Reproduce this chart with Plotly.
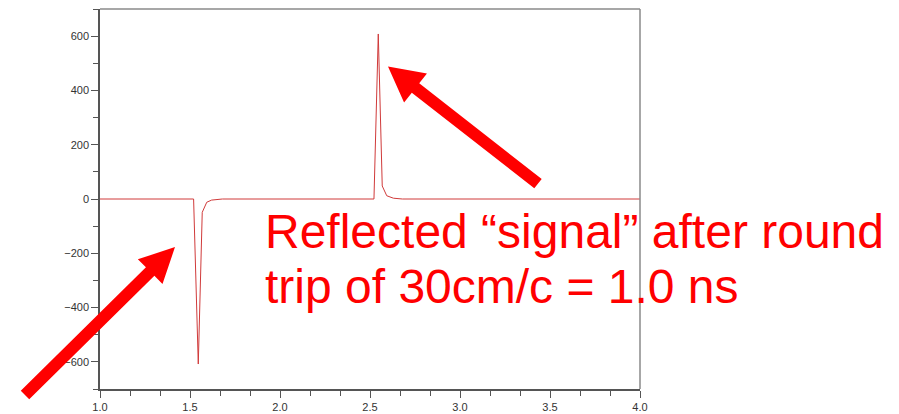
import plotly.graph_objects as go

# ---- data ----
time_ns = [1.0, 1.52, 1.546, 1.568, 1.593, 1.62, 1.68, 2.0,
           2.522, 2.546, 2.568, 2.593, 2.63, 2.68, 4.0]
signal = [0, 0, -608, -49, -12, -4, 0, 0,
          0, 608, 48, 12, 3, 0, 0]

x_ticks = [1.0, 1.5, 2.0, 2.5, 3.0, 3.5, 4.0]
y_ticks = [-600, -400, -200, 0, 200, 400, 600]

caption_lines = ["Reflected \u201csignal\u201d after round",
                 "trip of 30cm/c = 1.0 ns"]

# ---- layout geometry (window pixels; page body adds an 8px offset) ----
OFF = 8
W, H = 899 - OFF, 414 - OFF
L, R, T, B = 100, 640, 9, 392


def to_paper(px, py):
    return (px - L) / (R - L), (B - py) / (B - T)


def arrow_path(tail, tip, shaft_w, head_len, head_w):
    dx, dy = tip[0] - tail[0], tip[1] - tail[1]
    ln = (dx * dx + dy * dy) ** 0.5
    ux, uy = dx / ln, dy / ln
    nx, ny = -uy, ux
    bx, by = tip[0] - ux * head_len, tip[1] - uy * head_len
    pts = [
        (tail[0] + nx * shaft_w / 2, tail[1] + ny * shaft_w / 2),
        (bx + nx * shaft_w / 2, by + ny * shaft_w / 2),
        (bx + nx * head_w / 2, by + ny * head_w / 2),
        tip,
        (bx - nx * head_w / 2, by - ny * head_w / 2),
        (bx - nx * shaft_w / 2, by - ny * shaft_w / 2),
        (tail[0] - nx * shaft_w / 2, tail[1] - ny * shaft_w / 2),
    ]
    pp = [to_paper(*p) for p in pts]
    return "M " + " L ".join(f"{a:.5f},{b:.5f}" for a, b in pp) + " Z"


fig = go.Figure()
fig.add_trace(go.Scatter(x=time_ns, y=signal, mode="lines",
                         line=dict(color="#d03a3a", width=1),
                         showlegend=False, hoverinfo="skip"))

axis_font = dict(family="Liberation Sans, Arial, sans-serif", size=11, color="#333333")

fig.update_xaxes(range=[1.0, 4.0], tickvals=x_ticks,
                 ticktext=[f"{v:.1f}" for v in x_ticks],
                 ticks="outside", ticklen=7, tickcolor="#555555", tickwidth=1,
                 showline=True, linecolor="#555555", linewidth=1.5,
                 showgrid=False, zeroline=False, tickfont=axis_font,
                 minor=dict(tick0=1.0, dtick=0.5 / 3, ticks="outside", ticklen=5,
                            tickcolor="#555555", tickwidth=1, showgrid=False))
fig.update_yaxes(range=[-700, 700], tickvals=y_ticks,
                 ticks="outside", ticklen=7, tickcolor="#555555", tickwidth=1,
                 showline=True, linecolor="#555555", linewidth=1.5,
                 showgrid=False, zeroline=False, tickfont=axis_font,
                 minor=dict(tick0=0, dtick=100, ticks="outside", ticklen=5,
                            tickcolor="#555555", tickwidth=1, showgrid=False))

shapes = [
    dict(type="line", xref="paper", yref="paper", x0=0, x1=1, y0=1, y1=1,
         line=dict(color="#8a8a8a", width=1.5)),
    dict(type="line", xref="paper", yref="paper", x0=1, x1=1, y0=0, y1=1,
         line=dict(color="#8a8a8a", width=1.5)),
    dict(type="path", xref="paper", yref="paper",
         path=arrow_path((538, 185), (388, 67), 12, 35, 37),
         fillcolor="#ff0000", line=dict(width=0)),
    dict(type="path", xref="paper", yref="paper",
         path=arrow_path((25, 398), (175, 249), 12, 35, 35),
         fillcolor="#ff0000", line=dict(width=0)),
]

text_font = dict(family="Liberation Sans, Arial, sans-serif", size=48, color="#ff0000")
annotations = []
for line_txt, cy in zip(caption_lines, [233, 289]):
    px, py = to_paper(263, cy)
    annotations.append(dict(text=line_txt, xref="paper", yref="paper", x=px, y=py,
                            xanchor="left", yanchor="middle", showarrow=False,
                            font=text_font, align="left"))

fig.update_layout(width=W, height=H,
                  margin=dict(l=L - OFF, r=899 - R, t=T - OFF, b=414 - B, pad=0),
                  paper_bgcolor="white", plot_bgcolor="white",
                  shapes=shapes, annotations=annotations)

fig.write_html("out.html")
